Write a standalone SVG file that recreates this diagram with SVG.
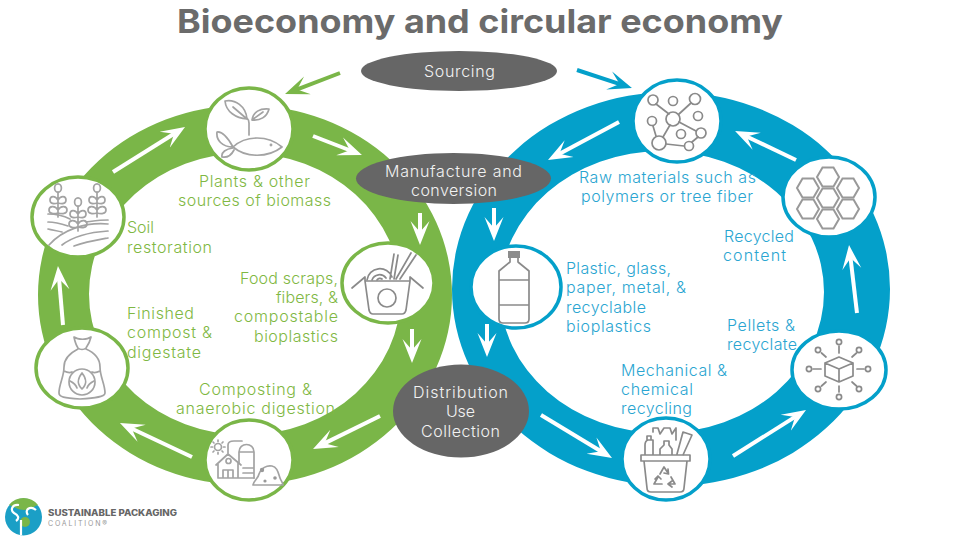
<svg xmlns="http://www.w3.org/2000/svg" width="960" height="540" viewBox="0 0 960 540">
<style>
text{font-family:"Inter","Liberation Sans",sans-serif;font-size:16px;font-weight:300}
.g{fill:#7fb843}.b{fill:#2aa5d1}.w{fill:#f2f2f2;font-weight:300}
.e{text-anchor:end}.m{text-anchor:middle}
.ng{fill:#fff;stroke:#7ab648;stroke-width:3.500}.nb{fill:#fff;stroke:#04a0ca;stroke-width:3.500}
.oval{fill:#666}
.i{fill:none;stroke:#a3a3a3;stroke-width:1.700;stroke-linecap:round;stroke-linejoin:round}
.d{stroke:#8a8a8a}
.aw{stroke:#fff;stroke-width:4;fill:none;marker-end:url(#hw)}
.ag{stroke:#7ab648;stroke-width:4;fill:none;marker-end:url(#hg)}
.ab{stroke:#04a0ca;stroke-width:4;fill:none;marker-end:url(#hb)}
</style>
<defs>
<marker id="hw" markerUnits="userSpaceOnUse" markerWidth="26" markerHeight="22" refX="13" refY="11" orient="auto"><path d="M24 11L0 1.500L11 11L0 20.500Z" fill="#fff"/></marker>
<marker id="hg" markerUnits="userSpaceOnUse" markerWidth="26" markerHeight="22" refX="13" refY="11" orient="auto"><path d="M24 11L0 1.500L11 11L0 20.500Z" fill="#7ab648"/></marker>
<marker id="hb" markerUnits="userSpaceOnUse" markerWidth="26" markerHeight="22" refX="13" refY="11" orient="auto"><path d="M24 11L0 1.500L11 11L0 20.500Z" fill="#04a0ca"/></marker>
<g id="sprig" class="i"><ellipse cx="0" cy="-21" rx="3.400" ry="4.200"/><path d="M0 -17V8M0 -9C-3 -14 -8 -13 -8 -9C-8 -5 -4 -5 0 -6M0 -9C3 -14 8 -13 8 -9C8 -5 4 -5 0 -6M0 1C-3 -4 -9 -3 -9 1C-9 5 -4 5 0 4M0 1C3 -4 9 -3 9 1C9 5 4 5 0 4"/></g>
</defs>

<g id="rings">
<path fill="#7ab648" fill-rule="evenodd" d="M38 295a207 190 0 1 0 414 0a207 190 0 1 0 -414 0ZM89 294a156 141 0 1 0 312 0a156 141 0 1 0 -312 0Z"/>
<path fill="#04a0ca" fill-rule="evenodd" d="M452 289a219 197 0 1 0 438 0a219 197 0 1 0 -438 0ZM500 292a162 141 0 1 0 324 0a162 141 0 1 0 -324 0Z"/>
</g>

<g id="connectors">
<line class="aw" x1="113" y1="172" x2="175.700" y2="132.800"/>
<line class="aw" x1="313" y1="136" x2="351.700" y2="151"/>
<line class="aw" x1="420" y1="213" x2="420" y2="234"/>
<line class="aw" x1="412" y1="329" x2="412" y2="352"/>
<line class="aw" x1="380" y1="416" x2="322.900" y2="444.100"/>
<line class="aw" x1="192" y1="457" x2="129.900" y2="427.700"/>
<line class="aw" x1="63" y1="325" x2="58.900" y2="277"/>
<line class="ag" x1="340" y1="73" x2="295.300" y2="90.100"/>
<line class="ab" x1="577" y1="70" x2="621.500" y2="84.600"/>
<line class="aw" x1="619" y1="122" x2="557.700" y2="154.800"/>
<line class="aw" x1="494" y1="208" x2="494" y2="230"/>
<line class="aw" x1="487" y1="324" x2="487" y2="346"/>
<line class="aw" x1="541" y1="415" x2="602.600" y2="452.300"/>
<line class="aw" x1="733" y1="456" x2="796.700" y2="415.900"/>
<line class="aw" x1="857" y1="313" x2="850.300" y2="256"/>
<line class="aw" x1="796" y1="160" x2="745" y2="135.700"/>
</g>

<text id="title" x="177" y="33" textLength="606" lengthAdjust="spacingAndGlyphs" style="font-size:33px;font-weight:700;fill:#6b6b6b">Bioeconomy and circular economy</text>

<g id="node-sourcing"><ellipse class="oval" cx="459" cy="71" rx="98" ry="20"/><text class="w" x="424" y="77" textLength="71">Sourcing</text></g>
<g id="node-manufacture"><ellipse class="oval" cx="453.500" cy="178.500" rx="97.500" ry="25.500"/><text class="w" x="385" y="177" textLength="137">Manufacture and</text><text class="w" x="411" y="196" textLength="86">conversion</text></g>
<g id="node-distribution"><ellipse class="oval" cx="461" cy="411" rx="68" ry="46.500"/><text class="w" x="413" y="398" textLength="95">Distribution</text><text class="w" x="446" y="417" textLength="29">Use</text><text class="w" x="421" y="437" textLength="79">Collection</text></g>

<g id="node-plants"><ellipse class="ng" cx="249" cy="129" rx="44" ry="41"/>
<g class="i"><path d="M225 101C235 99 246 106 247 119C236 118 226 112 225 101ZM233 107L247 119M252 120C253 112 260 108 269 109C267 117 260 121 252 120ZM252 120L263 112M249 135V123C249 120 248 119 247 118"/>
<path d="M233 147C246 135 268 135 282 147C268 158 246 158 233 147ZM233 147C228 138 223 131 217 132C216 140 222 147 233 147ZM233 148C226 149 221 152 222 157C228 158 232 154 234 150"/><circle cx="271" cy="145" r=".6"/></g></g>
<text class="g" x="199" y="187" textLength="111">Plants &amp; other</text>
<text class="g" x="178" y="206" textLength="153">sources of biomass</text>

<g id="node-soil"><ellipse class="ng" cx="78" cy="217" rx="46" ry="40"/>
<use href="#sprig" x="58" y="209"/><use href="#sprig" x="78" y="223"/><use href="#sprig" x="97" y="209"/>
<path class="i" d="M48 214C56 214 64 216 70 219M86 222C94 221 100 220 108 220M48 222C56 222 62 224 68 226M48 229C52 230 58 231 62 232M49 245C62 230 85 222 108 224M62 245C75 235 92 232 108 231M74 246C85 242 97 240 108 238"/></g>
<text class="g" x="127" y="233" textLength="27">Soil</text>
<text class="g" x="127" y="253" textLength="85">restoration</text>

<g id="node-box"><ellipse class="ng" cx="388" cy="283" rx="46" ry="40"/>
<g class="i d"><path d="M365 281H410L406 310Q405 314 402 314H373Q370 314 369 310ZM365 277L352 288M410 277L423 288M365 281L365 277M410 281L410 277"/><circle cx="387" cy="298" r="9"/><path d="M367 280A13 13 0 0 1 392 277M372 280A8 8 0 0 1 386 278M377 280A3.500 3.500 0 0 1 382 279M394 254L390 279M398 255L394 279M411 253L396 279M416 255L400 279"/></g></g>
<text class="g e" x="338" y="284" textLength="98">Food scraps,</text>
<text class="g e" x="338" y="303" textLength="62">fibers, &amp;</text>
<text class="g e" x="338" y="322" textLength="104">compostable</text>
<text class="g e" x="338" y="342" textLength="84">bioplastics</text>

<g id="node-bag"><ellipse class="ng" cx="82" cy="368" rx="46" ry="40"/>
<g class="i"><path d="M74 337C78 340 87 340 91 337C90 342 88 345 86 348C84 350 80 350 78 348C76 345 75 342 74 337ZM78 349C70 353 64 358 64 367C64 377 59 384 59 393C59 397 64 398 80 399C96 398 105 397 105 393C105 384 100 377 100 367C100 358 95 353 86 349M64 371C68 373 70 373 72 372M100 371C96 373 94 373 92 372"/><circle cx="82" cy="382" r="13"/><path d="M82 373C86 378 88 383 82 389C76 383 78 378 82 373ZM70 381C74 383 76 385 77 388M94 381C90 383 88 385 87 388"/></g></g>
<text class="g" x="127" y="319" textLength="67">Finished</text>
<text class="g" x="127" y="338" textLength="85">compost &amp;</text>
<text class="g" x="127" y="358" textLength="74">digestate</text>

<g id="node-farm"><ellipse class="ng" cx="249" cy="460" rx="44" ry="40"/>
<g class="i"><circle cx="218" cy="447" r="3.500"/><path d="M218 440V441.500M218 452.500V454M211 447H212.500M223.500 447H225M213 442L214 443M222 451L223 452M213 452L214 451M222 443L223 442M216 465L228 454L241 465M218 463V478H254M238 462V478M223 478V470H233V478M228 470V478"/><circle cx="228.500" cy="461" r="2.500"/><path d="M228 453V445C228 442 231 441 234 441H242M239 463V452C239 442 254 442 254 452V478M239 452H254M243 468H254M243 473H254"/><path d="M253 485C254 480 258 479 259 474C261 468 267 465 272 466C277 467 278 472 280 478C281 481 283 483 283 485Z"/></g>
<circle cx="262" cy="470" r="2.200" fill="#999"/><circle cx="265" cy="481" r="1.600" fill="#999"/><circle cx="275" cy="478" r="1.800" fill="#999"/></g>
<text class="g" x="199" y="395" textLength="113">Composting &amp;</text>
<text class="g" x="176" y="414" textLength="159">anaerobic digestion</text>

<g id="node-bottle"><ellipse class="nb" cx="516" cy="287" rx="45" ry="41"/>
<rect x="508" y="251" width="12" height="7" fill="#8c8c8c"/>
<path class="i d" d="M510 258V262L499 271V319Q499 323 503 323H525Q529 323 529 319V271L518 262V258M499 280H529M499 305H529"/></g>
<text class="b" x="566" y="274" textLength="105">Plastic, glass,</text>
<text class="b" x="566" y="293" textLength="120">paper, metal, &amp;</text>
<text class="b" x="566" y="313" textLength="80">recyclable</text>
<text class="b" x="566" y="332" textLength="85">bioplastics</text>

<g id="node-network"><ellipse class="nb" cx="677" cy="121" rx="44" ry="41"/>
<g class="i d"><path d="M656 104L669 114M691 103L679 114M653 126L656 136M670 125L663 137M679 122L696 131M666 144L684 146M698 137L692 142"/>
<circle cx="653" cy="100" r="5"/><circle cx="673" cy="101" r="4.500"/><circle cx="695" cy="99" r="5.500"/><circle cx="698" cy="116" r="4.500"/><circle cx="673" cy="119" r="7"/><circle cx="652" cy="121" r="4.500"/><circle cx="681" cy="134" r="4.500"/><circle cx="701" cy="133" r="5"/><circle cx="659" cy="143" r="7"/><circle cx="689" cy="146" r="4.500"/></g></g>
<text class="b" x="579" y="183" textLength="177">Raw materials such as</text>
<text class="b" x="581" y="202" textLength="172">polymers or tree fiber</text>

<g id="node-hex"><ellipse class="nb" cx="829" cy="197" rx="46" ry="40"/>
<g fill="none" stroke="#999" stroke-width="2">
<path d="M817 198L822.500 188.500H833.500L839 198L833.500 207.500H822.500Z"/>
<path d="M817 177L822.500 167.500H833.500L839 177L833.500 186.500H822.500Z"/>
<path d="M837 188L842.500 178.500H853.500L859 188L853.500 197.500H842.500Z"/>
<path d="M837 209L842.500 199.500H853.500L859 209L853.500 218.500H842.500Z"/>
<path d="M817 219L822.500 209.500H833.500L839 219L833.500 228.500H822.500Z"/>
<path d="M797 209L802.500 199.500H813.500L819 209L813.500 218.500H802.500Z"/>
<path d="M797 188L802.500 178.500H813.500L819 188L813.500 197.500H802.500Z"/></g></g>
<text class="b" x="724" y="242" textLength="70">Recycled</text>
<text class="b" x="723" y="261" textLength="63">content</text>

<g id="node-cube"><ellipse class="nb" cx="839" cy="370" rx="47" ry="39"/>
<g class="i d"><path d="M839 357L853 363V376L839 382L825 376V363ZM825 363L839 369L853 363M839 369V382M839 346V353M839 386V392M813 369H821M857 369H864M821.500 353L826 357M856.500 353L852 357M821.500 386L826 382M856.500 386L852 382"/>
<circle cx="839" cy="342" r="2.600"/><circle cx="839" cy="397" r="2.600"/><circle cx="809" cy="369" r="2.600"/><circle cx="868" cy="369" r="2.600"/><circle cx="818" cy="350" r="2.600"/><circle cx="859" cy="350" r="2.600"/><circle cx="818" cy="389" r="2.600"/><circle cx="859" cy="389" r="2.600"/></g></g>
<text class="b" x="727" y="331" textLength="68">Pellets &amp;</text>
<text class="b" x="727" y="350" textLength="70">recyclate</text>

<g id="node-basket"><ellipse class="nb" cx="666" cy="459" rx="44" ry="41"/>
<g class="i d"><path d="M641 455H690V461H641ZM644 461L647 488Q647 492 651 492H680Q684 492 684 488L687 461M645 455V445Q645 441 648 440H653V455M647 440V436H651V440M653 432V428H658L660 434L664 428H670L672 434L676 428V440M660 455V449L664 445V441H669V445L672 449V455M677 454L683 432L692 435L683 455"/>
<path d="M660 474L664 467L668 473M668 469L668.500 474L664 473M671 477L675 484H669M672 481L668 484L672 487M662 484H654L658 477M655 479L658 476L661 479"/></g></g>
<text class="b" x="621" y="376" textLength="106">Mechanical &amp;</text>
<text class="b" x="621" y="395" textLength="72">chemical</text>
<text class="b" x="621" y="414" textLength="71">recycling</text>

<g id="logo">
<circle cx="23.500" cy="517" r="18.500" fill="#1b9fc6"/>
<path d="M9 505A18.500 18.500 0 0 1 38 505C32 507 30 510 24 510C18 510 15 507 9 505Z" fill="#7ab648"/>
<circle cx="25" cy="522" r="5" fill="#7ab648"/>
<path d="M19 505C12 504 10 510 14 513C18 515 20 518 16 521M36 510C30 505 24 510 28 515M21 520V535" fill="none" stroke="#fff" stroke-width="2.200"/>
<text x="48" y="516" textLength="129" lengthAdjust="spacingAndGlyphs" style="font-size:8.500px;font-weight:800;fill:#666">SUSTAINABLE PACKAGING</text>
<text x="48" y="526" textLength="59" style="font-size:7px;font-weight:400;fill:#999">COALITION®</text>
</g>
</svg>
